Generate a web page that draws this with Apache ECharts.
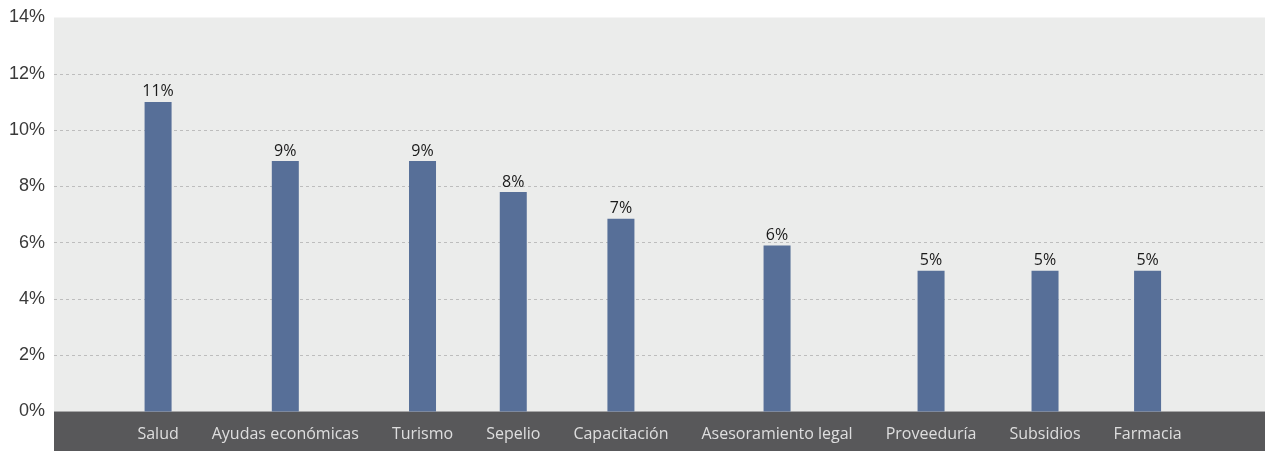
<!DOCTYPE html>
<html>
<head>
<meta charset="utf-8">
<script src="https://cdn.jsdelivr.net/npm/echarts@6/dist/echarts.min.js"></script>
<style>
    html, body { margin: 0; padding: 0; background: #fff; }
    #main { width: 1265px; height: 451px; }
</style>
</head>
<body>
<div id="main"></div>
<script>
var categories = ['Salud', 'Ayudas económicas', 'Turismo', 'Sepelio', 'Capacitación',
    'Asesoramiento legal', 'Proveeduría', 'Subsidios', 'Farmacia'];
var values = [11.0, 8.9, 8.9, 7.8, 6.85, 5.9, 5.0, 5.0, 5.0];
var yMin = 0, yMax = 14, yStep = 2;

var chart = echarts.init(document.getElementById('main'));

// labels sit in one row, centered, a fixed gap apart; each bar sits on its label
var gridLeft = 54;
var plotWidth = chart.getWidth() - gridLeft;
var catFont = '16px "Open Sans"';
var gap = 33;
var ctx = document.createElement('canvas').getContext('2d');
ctx.font = catFont;
var widths = categories.map(function (c) { return ctx.measureText(c).width; });
var total = widths.reduce(function (a, b) { return a + b; }, 0) + gap * (categories.length - 1);
var cursor = (plotWidth - total) / 2;
var centers = widths.map(function (w) {
    var c = cursor + w / 2;
    cursor += w + gap;
    return c;
});

var option = {
    animation: false,
    graphic: [{
        type: 'rect',
        left: gridLeft,
        bottom: 0,
        shape: { width: plotWidth, height: 39.5 },
        style: { fill: '#58585a' }
    }],
    grid: {
        left: gridLeft, right: 0, top: 17.5, bottom: 39.5,
        show: true, backgroundColor: '#ebeceb', borderWidth: 0
    },
    xAxis: {
        type: 'value', min: 0, max: plotWidth,
        show: false
    },
    yAxis: {
        type: 'value', min: yMin, max: yMax, interval: yStep,
        axisLine: { show: false },
        axisTick: { show: false },
        axisLabel: {
            formatter: '{value}%',
            fontFamily: 'Liberation Sans',
            fontSize: 18,
            color: '#3a3a3a',
            margin: 9
        },
        splitLine: {
            showMinLine: false,
            showMaxLine: false,
            lineStyle: { color: '#bdbdbd', type: [3, 3], width: 1 }
        }
    },
    series: [{
        type: 'bar',
        barWidth: 27,
        itemStyle: { color: '#576f98' },
        label: {
            show: true,
            position: 'top',
            distance: 2,
            fontFamily: 'Open Sans',
            fontSize: 16,
            color: '#1a1a1a',
            formatter: function (p) { return Math.round(p.value[1]) + '%'; }
        },
        data: values.map(function (v, i) { return [centers[i], v]; })
    }, {
        type: 'scatter',
        symbolSize: 0,
        z: 5,
        label: {
            show: true,
            position: 'bottom',
            distance: 15,
            fontFamily: 'Open Sans',
            fontSize: 16,
            color: '#fff',
            formatter: function (p) { return categories[p.dataIndex]; }
        },
        data: centers.map(function (x) { return [x, 0]; })
    }]
};
chart.setOption(option);
</script>
</body>
</html>
